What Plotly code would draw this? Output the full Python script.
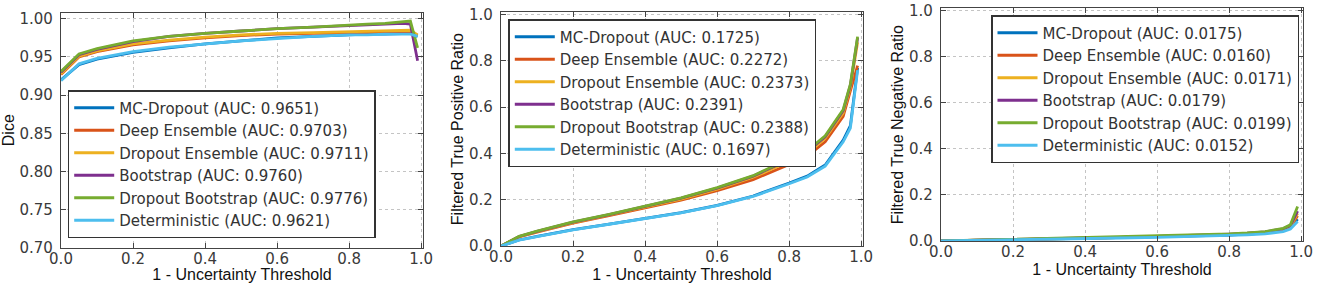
import plotly.graph_objects as go

# ---------------- data ----------------
methods = ["MC-Dropout", "Deep Ensemble", "Dropout Ensemble", "Bootstrap",
           "Dropout Bootstrap", "Deterministic"]
colors = ["#0072BD", "#D95319", "#EDB120", "#7E2F8E", "#77AC30", "#4DBEEE"]

auc_dice = ["0.9651", "0.9703", "0.9711", "0.9760", "0.9776", "0.9621"]
auc_tpr = ["0.1725", "0.2272", "0.2373", "0.2391", "0.2388", "0.1697"]
auc_tnr = ["0.0175", "0.0160", "0.0171", "0.0179", "0.0199", "0.0152"]

thresholds = [0.0, 0.05, 0.1, 0.2, 0.3, 0.4, 0.5, 0.6, 0.7, 0.8, 0.85, 0.9, 0.95, 0.97, 0.99]

dice_mc_dropout = [0.920, 0.940, 0.947, 0.956, 0.962, 0.967, 0.971, 0.975, 0.977, 0.979, 0.980, 0.980, 0.981, 0.981, 0.977]
dice_deep_ens = [0.927, 0.950, 0.957, 0.966, 0.971, 0.975, 0.978, 0.980, 0.981, 0.982, 0.982, 0.983, 0.983, 0.983, 0.978]
dice_dropout_ens = [0.928, 0.951, 0.958, 0.967, 0.972, 0.976, 0.979, 0.981, 0.982, 0.983, 0.983, 0.984, 0.984, 0.985, 0.979]
dice_bootstrap = [0.930, 0.953, 0.960, 0.970, 0.977, 0.981, 0.984, 0.987, 0.989, 0.991, 0.992, 0.993, 0.994, 0.993, 0.945]
dice_dropout_boot = [0.931, 0.954, 0.961, 0.971, 0.977, 0.981, 0.984, 0.987, 0.989, 0.992, 0.993, 0.994, 0.996, 0.997, 0.962]
dice_deterministic = [0.919, 0.941, 0.948, 0.957, 0.963, 0.967, 0.971, 0.974, 0.977, 0.979, 0.979, 0.980, 0.980, 0.980, 0.977]

tpr_mc_dropout = [0.0, 0.026, 0.042, 0.071, 0.095, 0.118, 0.144, 0.176, 0.216, 0.272, 0.302, 0.350, 0.458, 0.520, 0.770]
tpr_deep_ens = [0.0, 0.039, 0.060, 0.099, 0.131, 0.163, 0.198, 0.239, 0.287, 0.352, 0.388, 0.450, 0.560, 0.670, 0.780]
tpr_dropout_ens = [0.0, 0.040, 0.062, 0.101, 0.134, 0.167, 0.203, 0.246, 0.297, 0.366, 0.400, 0.465, 0.575, 0.685, 0.880]
tpr_bootstrap = [0.0, 0.041, 0.063, 0.103, 0.136, 0.170, 0.207, 0.250, 0.302, 0.374, 0.408, 0.472, 0.585, 0.695, 0.900]
tpr_dropout_boot = [0.0, 0.042, 0.064, 0.104, 0.137, 0.171, 0.208, 0.252, 0.304, 0.377, 0.411, 0.476, 0.590, 0.700, 0.905]
tpr_deterministic = [0.0, 0.025, 0.041, 0.070, 0.094, 0.117, 0.143, 0.175, 0.214, 0.269, 0.298, 0.345, 0.450, 0.510, 0.760]

tnr_mc_dropout = [0.0, 0.002, 0.003, 0.006, 0.008, 0.011, 0.014, 0.017, 0.021, 0.026, 0.030, 0.034, 0.045, 0.056, 0.095]
tnr_deep_ens = [0.0, 0.002, 0.003, 0.006, 0.009, 0.012, 0.015, 0.018, 0.022, 0.027, 0.031, 0.036, 0.048, 0.060, 0.110]
tnr_dropout_ens = [0.0, 0.002, 0.003, 0.006, 0.009, 0.012, 0.015, 0.019, 0.023, 0.028, 0.032, 0.038, 0.050, 0.063, 0.120]
tnr_bootstrap = [0.0, 0.002, 0.004, 0.007, 0.010, 0.013, 0.016, 0.020, 0.024, 0.030, 0.034, 0.040, 0.053, 0.067, 0.130]
tnr_dropout_boot = [0.0, 0.002, 0.004, 0.007, 0.010, 0.014, 0.017, 0.021, 0.025, 0.031, 0.035, 0.041, 0.055, 0.070, 0.150]
tnr_deterministic = [0.0, 0.001, 0.003, 0.005, 0.008, 0.010, 0.013, 0.016, 0.019, 0.024, 0.027, 0.031, 0.041, 0.052, 0.085]

x_ticks = [0.0, 0.2, 0.4, 0.6, 0.8, 1.0]
dice_ticks = [0.70, 0.75, 0.80, 0.85, 0.90, 0.95, 1.00]
ratio_ticks = [0.0, 0.2, 0.4, 0.6, 0.8, 1.0]

panels = [
    dict(series=[dice_mc_dropout, dice_deep_ens, dice_dropout_ens, dice_bootstrap,
                 dice_dropout_boot, dice_deterministic], auc=auc_dice,
         ytitle="Dice", yticks=dice_ticks, yfmt=".2f", yrange=[0.70, 1.008]),
    dict(series=[tpr_mc_dropout, tpr_deep_ens, tpr_dropout_ens, tpr_bootstrap,
                 tpr_dropout_boot, tpr_deterministic], auc=auc_tpr,
         ytitle="Filtered True Positive Ratio", yticks=ratio_ticks, yfmt=".1f",
         yrange=[0.0, 1.01]),
    dict(series=[tnr_mc_dropout, tnr_deep_ens, tnr_dropout_ens, tnr_bootstrap,
                 tnr_dropout_boot, tnr_deterministic], auc=auc_tnr,
         ytitle="Filtered True Negative Ratio", yticks=ratio_ticks, yfmt=".1f",
         yrange=[0.0, 1.01]),
]

# ---------------- layout geometry ----------------
W, H = 1320, 283
x_domains = [[61 / W, 423 / W], [501 / W, 863 / W], [941 / W, 1303 / W]]
y_domains = [[(H - 247.7) / H, (H - 12.7) / H],
             [(H - 246.0) / H, (H - 12.3) / H],
             [(H - 241.0) / H, (H - 8.3) / H]]
legend_pos = [(67.7 / W, (H - 90) / H), (508.3 / W, (H - 19) / H), (991 / W, (H - 15) / H)]
ytitle_standoff = [4, 1, 1]

TICK_FONT = dict(family="DejaVu Sans", size=15, color="#3a3a3a")
TITLE_FONT = dict(family="Liberation Sans, Arial", size=16, color="#111111")
FRAME = "#444444"

fig = go.Figure()
layout = dict(width=W, height=H, autosize=False,
              margin=dict(l=0, r=0, t=0, b=0, autoexpand=False),
              paper_bgcolor="white", plot_bgcolor="white", showlegend=True)

for i, p in enumerate(panels):
    n = "" if i == 0 else str(i + 1)
    leg = "legend" + n
    for j, m in enumerate(methods):
        fig.add_trace(go.Scatter(
            x=thresholds, y=p["series"][j], mode="lines",
            name=f"{m} (AUC: {p['auc'][j]})",
            line=dict(color=colors[j], width=2.8),
            xaxis="x" + n, yaxis="y" + n, legend=leg,
        ))
    axis_common = dict(showline=True, linecolor=FRAME, linewidth=1.3, mirror="ticks",
                       ticks="inside", ticklen=5, tickwidth=1.2, tickcolor=FRAME,
                       showgrid=True, gridcolor="#c4c4c4", griddash="dot", gridwidth=1,
                       zeroline=False, tickfont=TICK_FONT, fixedrange=True,
                       automargin=False)
    layout["xaxis" + n] = dict(axis_common, domain=x_domains[i], range=[0, 1.005],
                               tickvals=x_ticks, tickformat=".1f",
                               anchor="y" + n, ticklabelstandoff=-3,
                               title=dict(text="1 - Uncertainty Threshold",
                                          font=TITLE_FONT, standoff=2))
    layout["yaxis" + n] = dict(axis_common, domain=y_domains[i], range=p["yrange"],
                               tickvals=p["yticks"], tickformat=p["yfmt"],
                               anchor="x" + n, ticklabelstandoff=4,
                               title=dict(text=p["ytitle"], font=TITLE_FONT,
                                          standoff=ytitle_standoff[i]))
    lx, ly = legend_pos[i]
    layout[leg] = dict(x=lx, y=ly, xanchor="left", yanchor="top",
                       bgcolor="white", bordercolor="#333333", borderwidth=1.5,
                       font=dict(family="DejaVu Sans", size=15, color="#333333"),
                       itemwidth=40, tracegroupgap=0)

fig.update_layout(**layout)
fig.write_html(
    "out.html",
    config={"displayModeBar": False},
    post_script="document.body.style.margin='0';document.body.style.padding='0';"
                "document.body.style.overflow='hidden';",
)
